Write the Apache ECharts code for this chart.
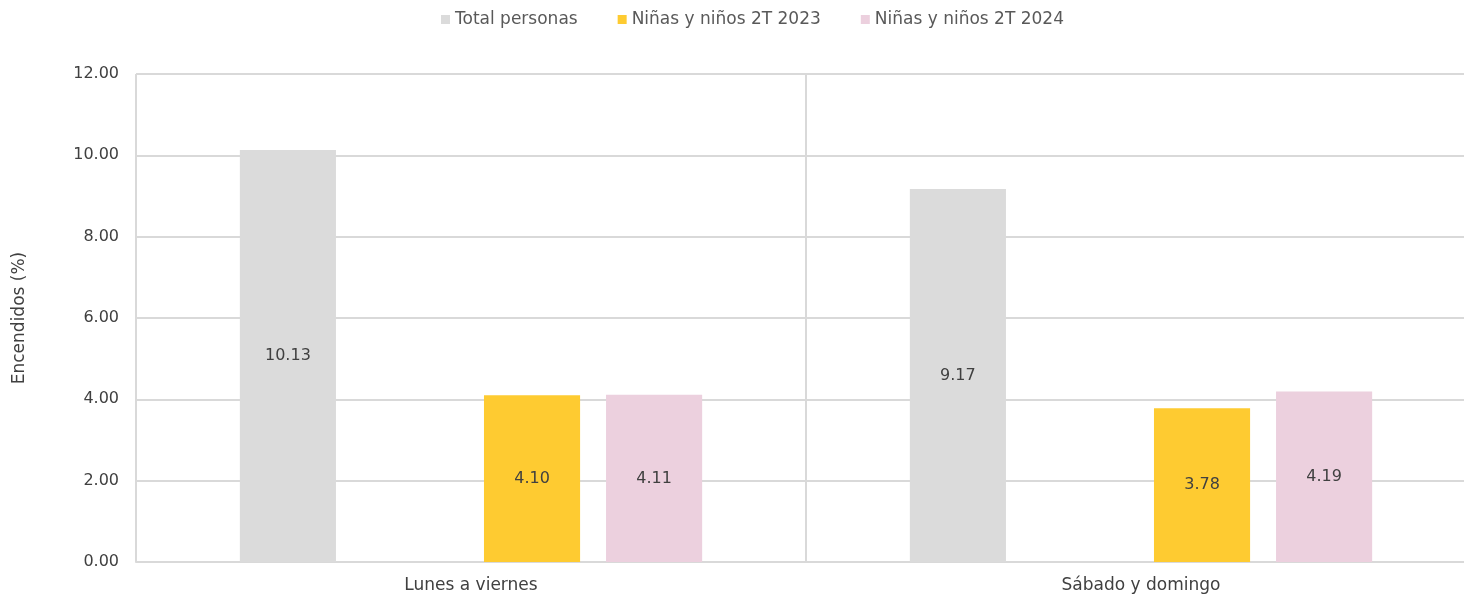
<!DOCTYPE html>
<html>
<head>
<meta charset="utf-8">
<script src="https://cdn.jsdelivr.net/npm/echarts@6/dist/echarts.min.js"></script>
<style>html,body{margin:0;padding:0;background:#fff}#c{width:1464px;height:596px}</style>
</head>
<body>
<div id="c"></div>
<script>
const categories = ['Lunes a viernes', 'Sábado y domingo'];
const totalPersonas = [10.13, 9.17];
const emptySlot = [null, null];
const ninos2023 = [4.10, 3.78];
const ninos2024 = [4.11, 4.19];
const yTicks = [0, 2, 4, 6, 8, 10, 12];

const FONT = 'DejaVu Sans';
const chart = echarts.init(document.getElementById('c'));
const lbl = {
  show: true, position: 'inside', color: '#404040', fontSize: 16, fontFamily: FONT,
  formatter: p => p.value == null ? '' : Number(p.value).toFixed(2)
};
chart.setOption({
  animation: false,
  textStyle: { fontFamily: FONT },
  legend: {
    top: 6, left: 436, itemWidth: 9, itemHeight: 9, itemGap: 40,
    icon: 'rect',
    data: ['Total personas', 'Niñas y niños 2T 2023', 'Niñas y niños 2T 2024'],
    textStyle: { color: '#595959', fontSize: 17, fontFamily: FONT }
  },
  grid: { left: 136, right: -12, top: 74, bottom: 34, containLabel: false, outerBoundsMode: 'none' },
  xAxis: {
    type: 'category', data: categories,
    axisLine: { show: true, lineStyle: { color: '#d9d9d9', width: 2 } },
    axisTick: { show: false },
    axisLabel: { color: '#404040', fontSize: 17, fontFamily: FONT, margin: 15 },
    splitLine: { show: true, lineStyle: { color: '#d9d9d9', width: 2 } }
  },
  yAxis: {
    type: 'value', min: yTicks[0], max: yTicks[yTicks.length - 1], interval: 2,
    name: 'Encendidos (%)', nameLocation: 'middle', nameGap: 108, nameRotate: 90,
    nameTextStyle: { color: '#404040', fontSize: 17, fontFamily: FONT },
    axisLine: { show: false }, axisTick: { show: false },
    axisLabel: { color: '#404040', fontSize: 16, fontFamily: FONT, margin: 17, formatter: v => v.toFixed(2) },
    splitLine: { lineStyle: { color: '#d9d9d9', width: 2 } }
  },
  series: [
    { name: 'Total personas', type: 'bar', data: totalPersonas, barGap: '27%', barCategoryGap: '31%',
      itemStyle: { color: '#dbdbdb' }, label: lbl },
    { name: ' ', type: 'bar', data: emptySlot, itemStyle: { color: '#ffffff' }, label: { show: false } },
    { name: 'Niñas y niños 2T 2023', type: 'bar', data: ninos2023, itemStyle: { color: '#fecb31' }, label: lbl },
    { name: 'Niñas y niños 2T 2024', type: 'bar', data: ninos2024, itemStyle: { color: '#ecd0de' }, label: lbl }
  ]
});
</script>
</body>
</html>
